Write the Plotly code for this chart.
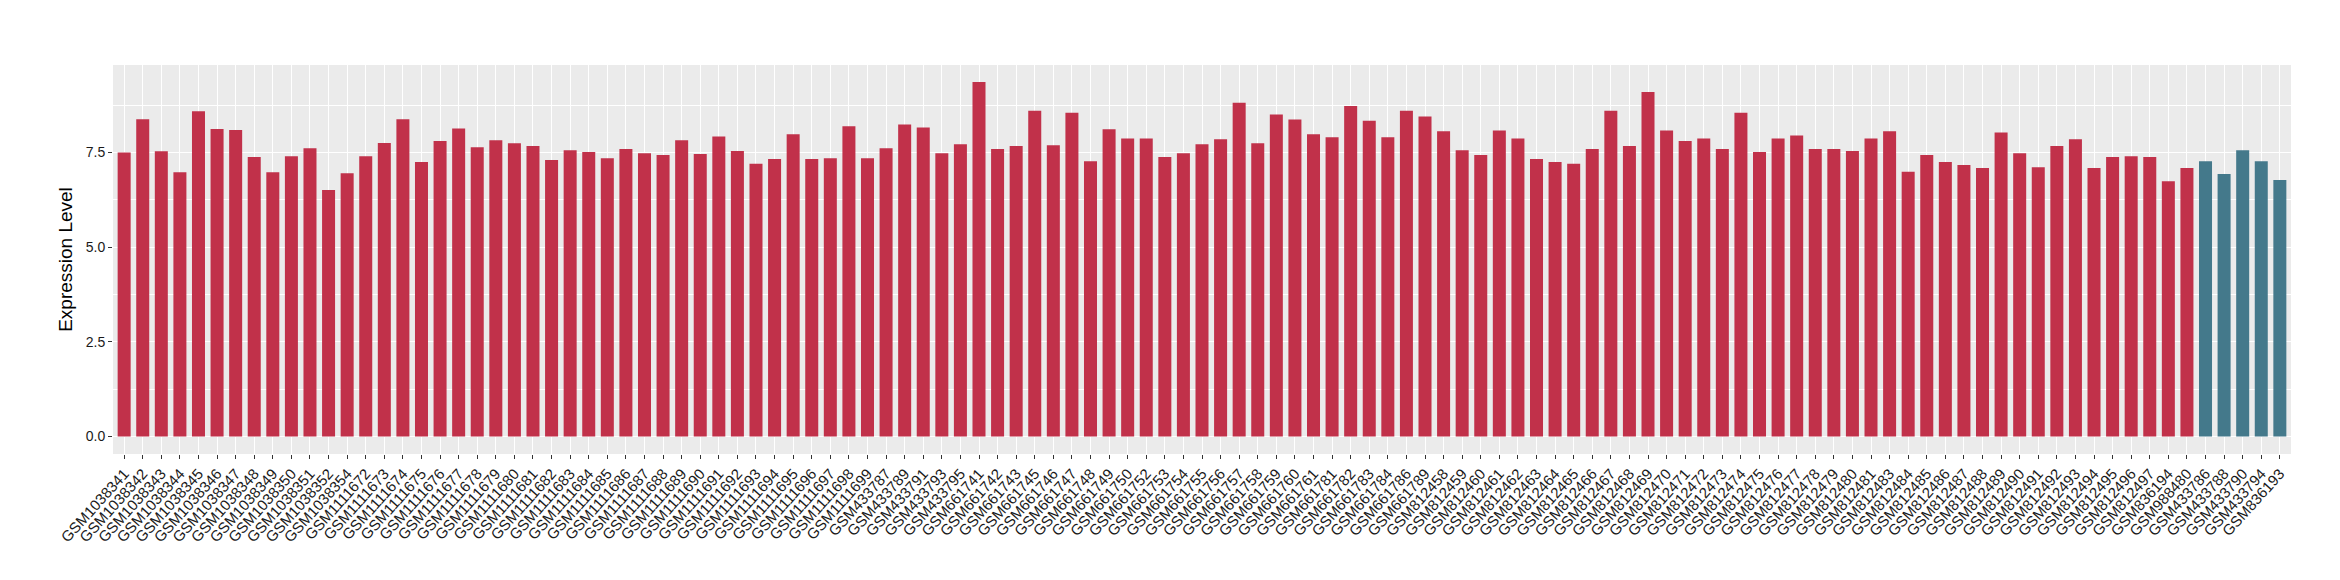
import plotly.graph_objects as go

samples_red = (
    ["GSM1038341", "GSM1038342", "GSM1038343", "GSM1038344", "GSM1038345", "GSM1038346",
     "GSM1038347", "GSM1038348", "GSM1038349", "GSM1038350", "GSM1038351", "GSM1038352",
     "GSM1038354"]
    + ["GSM11116%02d" % n for n in range(72, 100)]
    + ["GSM433787", "GSM433789", "GSM433791", "GSM433793", "GSM433795"]
    + ["GSM661741", "GSM661742", "GSM661743", "GSM661745", "GSM661746", "GSM661747",
       "GSM661748", "GSM661749", "GSM661750", "GSM661752", "GSM661753", "GSM661754",
       "GSM661755", "GSM661756", "GSM661757", "GSM661758", "GSM661759", "GSM661760",
       "GSM661761", "GSM661781", "GSM661782", "GSM661783", "GSM661784", "GSM661786",
       "GSM661789"]
    + ["GSM812%03d" % n for n in range(458, 482)]
    + ["GSM812%03d" % n for n in range(483, 498)]
    + ["GSM836194", "GSM988480"]
)
samples_blue = ["GSM433786", "GSM433788", "GSM433790", "GSM433794", "GSM836193"]

values_red = [
    7.50, 8.38, 7.53, 6.98, 8.59, 8.12, 8.09, 7.38, 6.98, 7.40, 7.61, 6.51, 6.95,
    7.40, 7.75, 8.38, 7.25, 7.80, 8.13, 7.64, 7.82, 7.74, 7.67, 7.30, 7.56, 7.51,
    7.35, 7.59, 7.48, 7.43, 7.82, 7.46, 7.92, 7.54, 7.20, 7.33, 7.98, 7.33, 7.35,
    8.19, 7.35, 7.61, 8.24, 8.16, 7.48, 7.72, 9.36, 7.59, 7.67, 8.60, 7.69, 8.55,
    7.27, 8.11, 7.87, 7.87, 7.38, 7.48, 7.72, 7.85, 8.81, 7.74, 8.50, 8.37, 7.98,
    7.90, 8.73, 8.34, 7.90, 8.60, 8.45, 8.06, 7.56, 7.43, 8.08, 7.87, 7.33, 7.25,
    7.20, 7.59, 8.60, 7.67, 9.10, 8.08, 7.80, 7.87, 7.59, 8.55, 7.51, 7.87, 7.95,
    7.59, 7.59, 7.54, 7.87, 8.06, 6.99, 7.43, 7.25, 7.17, 7.09, 8.03, 7.48, 7.11,
    7.67, 7.85, 7.09, 7.38, 7.40, 7.38, 6.74, 7.09,
]
values_blue = [7.27, 6.93, 7.56, 7.27, 6.77]

y_tickvals = [0, 2.5, 5, 7.5]
y_ticktext = ["0.0", "2.5", "5.0", "7.5"]

RED = "#C1314A"
BLUE = "#44798B"
FONT = "Liberation Sans, Arial, Helvetica, sans-serif"

fig = go.Figure()
fig.add_trace(go.Bar(x=samples_red, y=values_red, marker=dict(color=RED, line=dict(width=0)),
                     showlegend=False))
fig.add_trace(go.Bar(x=samples_blue, y=values_blue, marker=dict(color=BLUE, line=dict(width=0)),
                     showlegend=False))

n = len(samples_red) + len(samples_blue)
fig.update_layout(
    width=2340, height=580,
    margin=dict(l=105, r=57, t=57, b=134, autoexpand=False),
    paper_bgcolor="white",
    plot_bgcolor="#EBEBEB",
    bargap=0.3,
    font=dict(family=FONT, color="#1a1a1a"),
    xaxis=dict(
        categoryorder="array", categoryarray=samples_red + samples_blue,
        range=[-0.6, n - 1 + 0.6],
        tickangle=-48,
        tickfont=dict(size=15, color="#1a1a1a", family=FONT),
        showgrid=True, gridcolor="white", gridwidth=1.2,
        ticks="outside", ticklen=4, tickcolor="#333333", tickwidth=1,
        showline=False, zeroline=False, automargin=False,
    ),
    yaxis=dict(
        range=[-0.465, 9.81],
        tickvals=y_tickvals, ticktext=y_ticktext,
        tickfont=dict(size=14, color="#1a1a1a", family=FONT),
        showgrid=True, gridcolor="white", gridwidth=1.3,
        minor=dict(tickvals=[1.25, 3.75, 6.25, 8.75], showgrid=True,
                   gridcolor="white", gridwidth=0.6),
        ticks="outside", ticklen=4, tickcolor="#333333", tickwidth=1,
        showline=False, zeroline=False, automargin=False,
        title=dict(text="Expression Level", standoff=8,
                   font=dict(size=19, color="black", family=FONT)),
    ),
)

fig.write_html("out.html")
